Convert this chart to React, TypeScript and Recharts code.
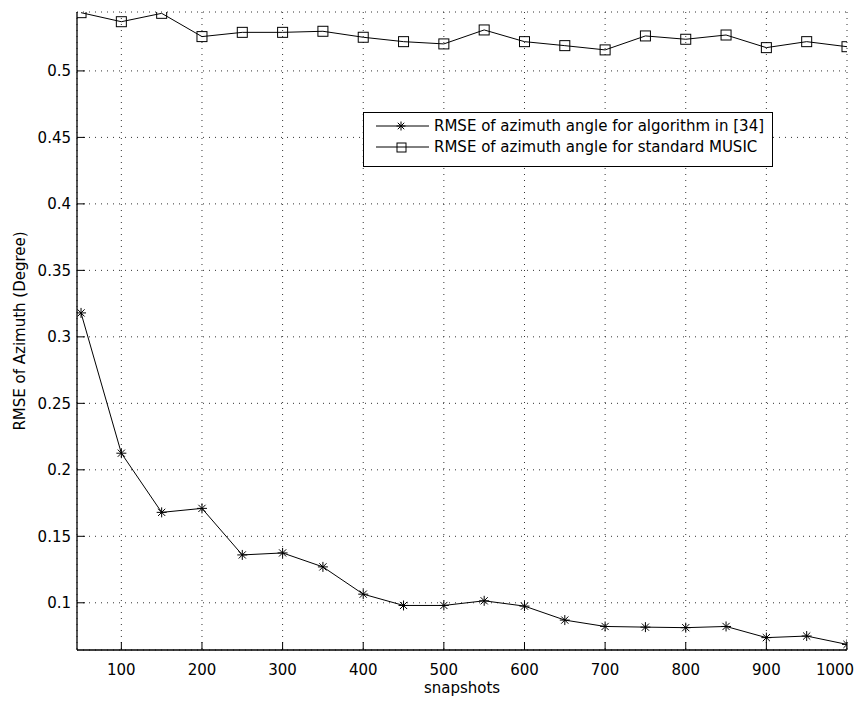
import { LineChart, Line, XAxis, YAxis, CartesianGrid, Legend } from 'recharts';

const snapshots = [50, 100, 150, 200, 250, 300, 350, 400, 450, 500, 550, 600, 650, 700, 750, 800, 850, 900, 950, 1000];
const algo34 = [0.318, 0.2125, 0.168, 0.171, 0.136, 0.1375, 0.127, 0.1065, 0.098, 0.098, 0.1015, 0.0975, 0.087, 0.0822, 0.0817, 0.0813, 0.0822, 0.0738, 0.075, 0.0687];
const music = [0.5438, 0.537, 0.5433, 0.5258, 0.529, 0.529, 0.5298, 0.5253, 0.522, 0.5203, 0.5308, 0.522, 0.519, 0.5158, 0.5263, 0.5238, 0.527, 0.5175, 0.522, 0.5182];
const xTicks = [100, 200, 300, 400, 500, 600, 700, 800, 900, 1000];
const yTicks = [0.1, 0.15, 0.2, 0.25, 0.3, 0.35, 0.4, 0.45, 0.5];

const data = snapshots.map((s, i) => ({ s, algo: algo34[i], music: music[i] }));

const font = 'DejaVu Sans';
const tickStyle = { fill: '#000', fontSize: 15, fontFamily: font };

function StarMark({ cx, cy, r = 5 }: any) {
  const d = r * 0.72;
  return (
    <g stroke="#000" strokeWidth={1} fill="none">
      <line x1={cx - r} y1={cy} x2={cx + r} y2={cy} />
      <line x1={cx} y1={cy - r} x2={cx} y2={cy + r} />
      <line x1={cx - d} y1={cy - d} x2={cx + d} y2={cy + d} />
      <line x1={cx - d} y1={cy + d} x2={cx + d} y2={cy - d} />
    </g>
  );
}

function SquareMark({ cx, cy, r = 5 }: any) {
  return <rect x={cx - r} y={cy - r} width={r * 2} height={r * 2} stroke="#000" strokeWidth={1} fill="none" />;
}

const starDot = (p: any) => (p.cx == null ? <g key={p.index} /> : <g key={p.index}><StarMark cx={p.cx} cy={p.cy} /></g>);
const squareDot = (p: any) => (p.cx == null ? <g key={p.index} /> : <g key={p.index}><SquareMark cx={p.cx} cy={p.cy} /></g>);

// the page clips at the body edge, so the last label is nudged in to stay visible
function XTick({ x, y, payload }: any) {
  const last = payload.value === xTicks[xTicks.length - 1];
  return (
    <text x={last ? x - 8 : x} y={y} dy="0.71em" textAnchor="middle" fontFamily={font} fontSize={15} fill="#000">
      {payload.value}
    </text>
  );
}

const legendItems = [
  { label: 'RMSE of azimuth angle for algorithm in [34]', mark: 'star' },
  { label: 'RMSE of azimuth angle for standard MUSIC', mark: 'square' },
];

function LegendBox() {
  return (
    <div style={{ border: '1px solid #000', background: '#fff', width: 408, height: 51, boxSizing: 'content-box', paddingTop: 2 }}>
      {legendItems.map((it) => (
        <div key={it.label} style={{ display: 'flex', alignItems: 'center', height: 21.5, fontFamily: font, fontSize: 15, color: '#000', whiteSpace: 'nowrap' }}>
          <svg width={70} height={20} style={{ flex: 'none' }}>
            <line x1={12} y1={10} x2={65} y2={10} stroke="#000" strokeWidth={1} />
            {it.mark === 'star' ? <StarMark cx={37} cy={10} r={4.5} /> : <SquareMark cx={37.5} cy={10.5} r={4.5} />}
          </svg>
          <span>{it.label}</span>
        </div>
      ))}
    </div>
  );
}

export default function App() {
  return (
    <LineChart width={851} height={693} data={data} margin={{ top: 4, right: 12, left: 9, bottom: 21 }}>
      <CartesianGrid stroke="#333" strokeDasharray="1 5" />
      <XAxis
        dataKey="s"
        type="number"
        domain={[45, 1000]}
        allowDataOverflow
        ticks={xTicks}
        height={30}
        tick={<XTick />}
        tickSize={-8}
        tickMargin={22}
        tickLine={{ stroke: '#000' }}
        axisLine={{ stroke: '#000', strokeWidth: 1.3 }}
        label={({ viewBox }: any) => (
          <text x={viewBox.x + viewBox.width / 2} y={685} textAnchor="middle" fontFamily={font} fontSize={15} fill="#000">
            snapshots
          </text>
        )}
      />
      <XAxis
        xAxisId="top"
        orientation="top"
        dataKey="s"
        type="number"
        domain={[45, 1000]}
        allowDataOverflow
        ticks={xTicks}
        height={0}
        tick={false}
        tickSize={-8}
        tickLine={{ stroke: '#000' }}
        axisLine={{ stroke: '#000', strokeWidth: 1.3 }}
      />
      <YAxis
        type="number"
        domain={[0.0645, 0.5443]}
        allowDataOverflow
        ticks={yTicks}
        width={60}
        tick={tickStyle}
        tickSize={-8}
        tickMargin={14}
        tickLine={{ stroke: '#000' }}
        axisLine={{ stroke: '#000', strokeWidth: 1.3 }}
        label={({ viewBox }: any) => {
          const x = viewBox.x + 3;
          const y = viewBox.y + viewBox.height / 2;
          return (
            <text x={x} y={y} transform={`rotate(-90, ${x}, ${y})`} textAnchor="middle" dominantBaseline="central" fontFamily={font} fontSize={15} fill="#000">
              RMSE of Azimuth (Degree)
            </text>
          );
        }}
      />
      <YAxis
        yAxisId="right"
        orientation="right"
        type="number"
        domain={[0.0645, 0.5443]}
        allowDataOverflow
        ticks={yTicks}
        width={0}
        tick={false}
        tickSize={-8}
        tickLine={{ stroke: '#000' }}
        axisLine={{ stroke: '#000', strokeWidth: 1.3 }}
      />
      <Legend
        layout="vertical"
        align="center"
        verticalAlign="middle"
        content={() => <LegendBox />}
        wrapperStyle={{ position: 'absolute', left: 355, top: 104, width: 410, height: 53 }}
      />
      <Line type="linear" dataKey="algo" stroke="#000" strokeWidth={1} dot={starDot} activeDot={false} isAnimationActive={false} />
      <Line type="linear" dataKey="music" stroke="#000" strokeWidth={1} dot={squareDot} activeDot={false} isAnimationActive={false} />
    </LineChart>
  );
}
